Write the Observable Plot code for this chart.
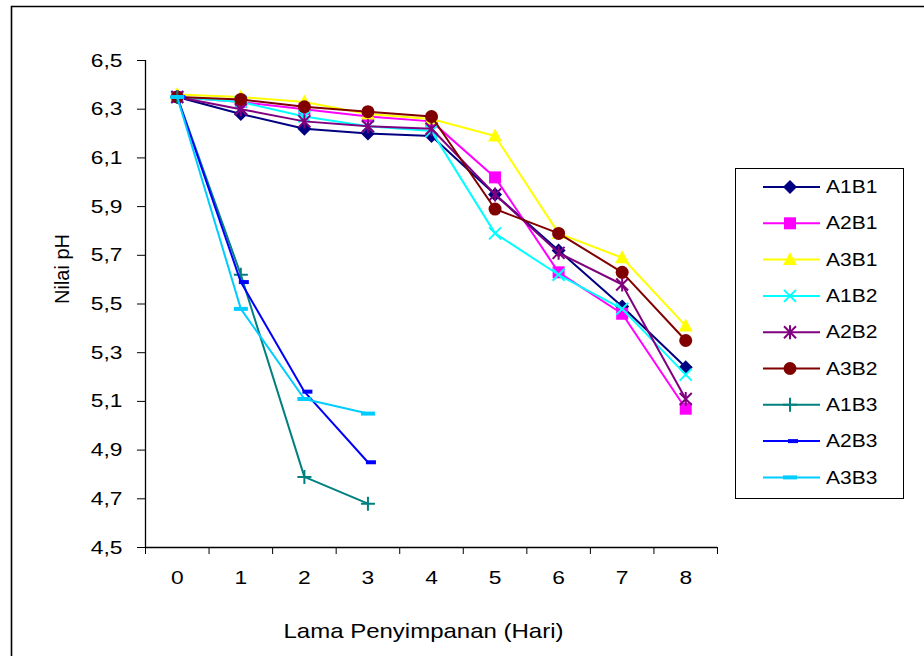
<!DOCTYPE html>
<html>
<head>
<meta charset="utf-8">
<script src="https://cdn.jsdelivr.net/npm/d3@7"></script>
<script src="https://cdn.jsdelivr.net/npm/@observablehq/plot@0.6"></script>
<style>
  html, body { margin: 0; padding: 0; background: #fff; }
  #chart { position: relative; width: 924px; height: 656px; }
</style>
</head>
<body>
<div id="chart"></div>
<script>
// ---- data ----
const days = [0, 1, 2, 3, 4, 5, 6, 7, 8];
const yTicks = [4.5, 4.7, 4.9, 5.1, 5.3, 5.5, 5.7, 5.9, 6.1, 6.3, 6.5];
const seriesNames = ["A1B1", "A2B1", "A3B1", "A1B2", "A2B2", "A3B2", "A1B3", "A2B3", "A3B3"];
const A1B1 = [6.35, 6.28, 6.22, 6.20, 6.19, 5.95, 5.72, 5.49, 5.24];
const A2B1 = [6.35, 6.33, 6.30, 6.27, 6.25, 6.02, 5.63, 5.46, 5.07];
const A3B1 = [6.36, 6.35, 6.33, 6.28, 6.26, 6.19, 5.79, 5.69, 5.41];
const A1B2 = [6.35, 6.33, 6.27, 6.23, 6.21, 5.79, 5.62, 5.48, 5.21];
const A2B2 = [6.35, 6.30, 6.25, 6.23, 6.22, 5.95, 5.71, 5.58, 5.11];
const A3B2 = [6.35, 6.34, 6.31, 6.29, 6.27, 5.89, 5.79, 5.63, 5.35];
const A1B3 = [6.35, 5.62, 4.79, 4.68];
const A2B3 = [6.35, 5.59, 5.14, 4.85];
const A3B3 = [6.35, 5.48, 5.11, 5.05];
const seriesValues = [A1B1, A2B1, A3B1, A1B2, A2B2, A3B2, A1B3, A2B3, A3B3];
const xTitle = "Lama Penyimpanan (Hari)";
const yTitle = "Nilai pH";

// ---- styling ----
const colors = ["#000080", "#FF00FF", "#FFFF00", "#00FFFF", "#800080", "#800000", "#008080", "#0000FF", "#00CCFF"];
const sym = {
  diamond: {draw(c) { c.moveTo(0, -7); c.lineTo(7, 0); c.lineTo(0, 7); c.lineTo(-7, 0); c.closePath(); }},
  square: {draw(c) { c.rect(-6, -6, 12, 12); }},
  triangle: {draw(c) { c.moveTo(0, -7.5); c.lineTo(7, 5.5); c.lineTo(-7, 5.5); c.closePath(); }},
  times: {draw(c) { c.moveTo(-6, -6); c.lineTo(6, 6); c.moveTo(6, -6); c.lineTo(-6, 6); }},
  asterisk: {draw(c) { c.moveTo(-6, -6); c.lineTo(6, 6); c.moveTo(6, -6); c.lineTo(-6, 6); c.moveTo(0, -7); c.lineTo(0, 7); }},
  circle: {draw(c) { c.moveTo(6.5, 0); c.arc(0, 0, 6.5, 0, 2 * Math.PI); }},
  plus: {draw(c) { c.moveTo(-7, 0); c.lineTo(7, 0); c.moveTo(0, -7); c.lineTo(0, 7); }},
  dashS: {draw(c) { c.rect(-2, -2, 10, 4); }},
  dashL: {draw(c) { c.rect(-7, -2, 14, 4); }}
};
const markers = [
  {s: sym.diamond, filled: true}, {s: sym.square, filled: true}, {s: sym.triangle, filled: true},
  {s: sym.times, filled: false}, {s: sym.asterisk, filled: false}, {s: sym.circle, filled: true},
  {s: sym.plus, filled: false}, {s: sym.dashS, filled: true}, {s: sym.dashL, filled: true}
];

const series = seriesNames.map((name, k) => ({
  name, color: colors[k], marker: markers[k],
  rows: seriesValues[k].map((v, i) => ({day: days[i], value: v}))
}));

const fmt = d => d.toFixed(1).replace(".", ",");
const halfTicks = d3.range(-0.5, 9, 1);

const marks = [
  Plot.ruleY([4.5], {stroke: "black", strokeWidth: 1.3}),
  Plot.ruleX([-0.5], {stroke: "black", strokeWidth: 1.3}),
  Plot.text(days, {x: d => d, text: d => String(d), frameAnchor: "bottom", dy: 36, fontSize: 19}),
  Plot.text(yTicks, {y: d => d, text: fmt, frameAnchor: "left", dx: -23, textAnchor: "end", fontSize: 19}),
  Plot.text([xTitle], {frameAnchor: "bottom", dx: -8, dy: 90, fontSize: 20}),
  Plot.text([yTitle], {frameAnchor: "left", dx: -83, rotate: -90, fontSize: 20})
];
for (const s of series) {
  marks.push(Plot.line(s.rows, {x: "day", y: "value", stroke: s.color, strokeWidth: 2}));
  marks.push(Plot.dot(s.rows, {
    x: "day", y: "value", r: 5, symbol: s.marker.s,
    fill: s.marker.filled ? s.color : "none",
    stroke: s.marker.filled ? "none" : s.color,
    strokeWidth: 2
  }));
}

const chart = Plot.plot({
  width: 924,
  height: 656,
  marginLeft: 145,
  marginRight: 207,
  marginTop: 60,
  marginBottom: 109,
  style: {fontFamily: "'Liberation Sans', Arial, sans-serif", fontSize: "19px", color: "black", background: "white", overflow: "visible"},
  x: {domain: [-0.5, 8.5], ticks: halfTicks, tickSize: 7, tickFormat: () => "", label: null},
  y: {domain: [4.5, 6.5], ticks: yTicks, tickSize: 8, tickFormat: () => "", label: null},
  marks
});

document.getElementById("chart").appendChild(chart);

// horizontal stretch of the mark texts (the reference's glyphs are wide)
chart.querySelectorAll("text").forEach(t => {
  const tr = t.getAttribute("transform") || "";
  if (!t.textContent || tr.includes("rotate") || !tr.includes("translate")) return;
  t.setAttribute("transform", `${tr} scale(1.2,1)`);
});

const svg = d3.select(chart.tagName.toLowerCase() === "svg" ? chart : chart.querySelector("svg"));

// outer frame (top and left edges visible)
svg.append("path").attr("d", "M11.5,656V6.5H924").attr("fill", "none").attr("stroke", "black").attr("stroke-width", 1.6);

// legend
const lg = svg.append("g").attr("class", "legend");
lg.append("rect").attr("x", 735.5).attr("y", 168.5).attr("width", 168).attr("height", 330)
  .attr("fill", "white").attr("stroke", "black").attr("stroke-width", 1);
const ly0 = 187, lstep = 36.3;
series.forEach((s, k) => {
  const y = ly0 + k * lstep;
  lg.append("line").attr("x1", 763).attr("x2", 820).attr("y1", y).attr("y2", y)
    .attr("stroke", s.color).attr("stroke-width", 2);
  lg.append("path").attr("d", d3.symbol(s.marker.s, 64)())
    .attr("transform", `translate(790,${y})`)
    .attr("fill", s.marker.filled ? s.color : "none")
    .attr("stroke", s.marker.filled ? "none" : s.color)
    .attr("stroke-width", 2);
  lg.append("text").attr("transform", `translate(826,${y}) scale(1.2,1)`)
    .attr("text-anchor", "start")
    .attr("dy", "0.35em").attr("font-size", 17.5).attr("fill", "black").text(s.name);
});
</script>
</body>
</html>
